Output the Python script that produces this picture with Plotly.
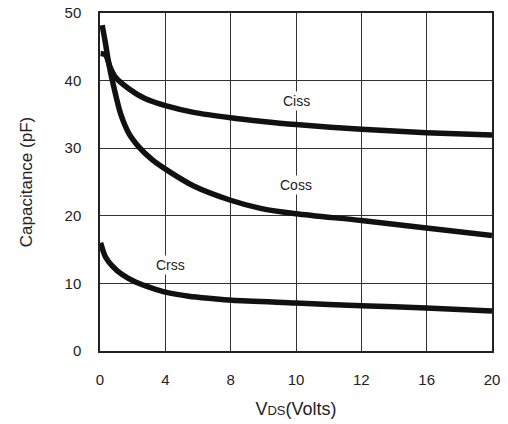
import plotly.graph_objects as go

# VDS in volts on a linear 0-20 scale (grid has 6 equal divisions)
vds_ciss = [0.03, 0.28, 0.54, 0.79, 1.47, 2.32, 3.34, 4.78, 6.66, 8.19, 10.0, 13.34, 16.65, 20.0]
ciss     = [44.0, 43.8, 41.8, 40.5, 38.8, 37.3, 36.3, 35.3, 34.5, 34.0, 33.5, 32.8, 32.3, 31.95]

vds_coss = [0.11, 0.28, 0.45, 0.70, 1.05, 1.47, 1.98, 2.66, 3.34, 4.78, 6.66, 8.19, 10.0, 13.34, 16.65, 20.0]
coss     = [48.2, 45.5, 42.5, 39.1, 35.1, 32.2, 30.2, 28.3, 26.9, 24.4, 22.3, 21.1, 20.3, 19.3, 18.2, 17.1]

vds_crss = [0.03, 0.28, 0.62, 1.13, 1.81, 2.66, 3.34, 4.53, 5.72, 6.74, 10.0, 13.34, 16.65, 20.0]
crss     = [16.0, 13.9, 12.6, 11.3, 10.2, 9.3, 8.7, 8.1, 7.75, 7.5, 7.1, 6.7, 6.35, 5.9]

x_tick_labels = ["0", "4", "8", "10", "12", "16", "20"]
y_ticks = [0, 10, 20, 30, 40, 50]

FONT = "Liberation Sans, Arial, sans-serif"

fig = go.Figure()
for xs, ys in [(vds_ciss, ciss), (vds_coss, coss), (vds_crss, crss)]:
    fig.add_trace(go.Scatter(x=xs, y=ys, mode="lines",
                             line=dict(color="#111111", width=5.5, shape="spline", smoothing=0.8),
                             showlegend=False, hoverinfo="skip"))

for txt, x, y in [("Ciss", 10.0, 37.0), ("Coss", 10.0, 24.6), ("Crss", 3.6, 12.7)]:
    fig.add_annotation(x=x, y=y, text=txt, showarrow=False, bgcolor="white",
                       font=dict(family=FONT, size=14, color="#222"), borderpad=1)

tickpos = [i * 20 / 6 for i in range(7)]
fig.update_layout(
    width=508, height=424,
    margin=dict(l=100, r=16, t=13, b=73),
    paper_bgcolor="white", plot_bgcolor="white",
    font=dict(family=FONT, color="#222"),
    xaxis=dict(range=[0, 20], tickvals=tickpos, ticktext=x_tick_labels, automargin=False,
               showgrid=True, gridcolor="#333", gridwidth=1.3,
               showline=True, linecolor="#222", linewidth=1.5, mirror=True,
               zeroline=False, ticks="", ticklabelstandoff=14,
               tickfont=dict(size=15, family=FONT),
               title=dict(text="V<span style='font-size:13px'>DS</span>(Volts)",
                          font=dict(size=18, family=FONT), standoff=16)),
    yaxis=dict(range=[0, 50], tickvals=y_ticks, automargin=False,
               showgrid=True, gridcolor="#333", gridwidth=1.3,
               showline=True, linecolor="#222", linewidth=1.5, mirror=True,
               zeroline=False, ticks="", ticklabelstandoff=14,
               tickfont=dict(size=15, family=FONT),
               title=dict(text="Capacitance (pF)", font=dict(size=17, family=FONT), standoff=28)),
)

fig.write_html("out.html")
